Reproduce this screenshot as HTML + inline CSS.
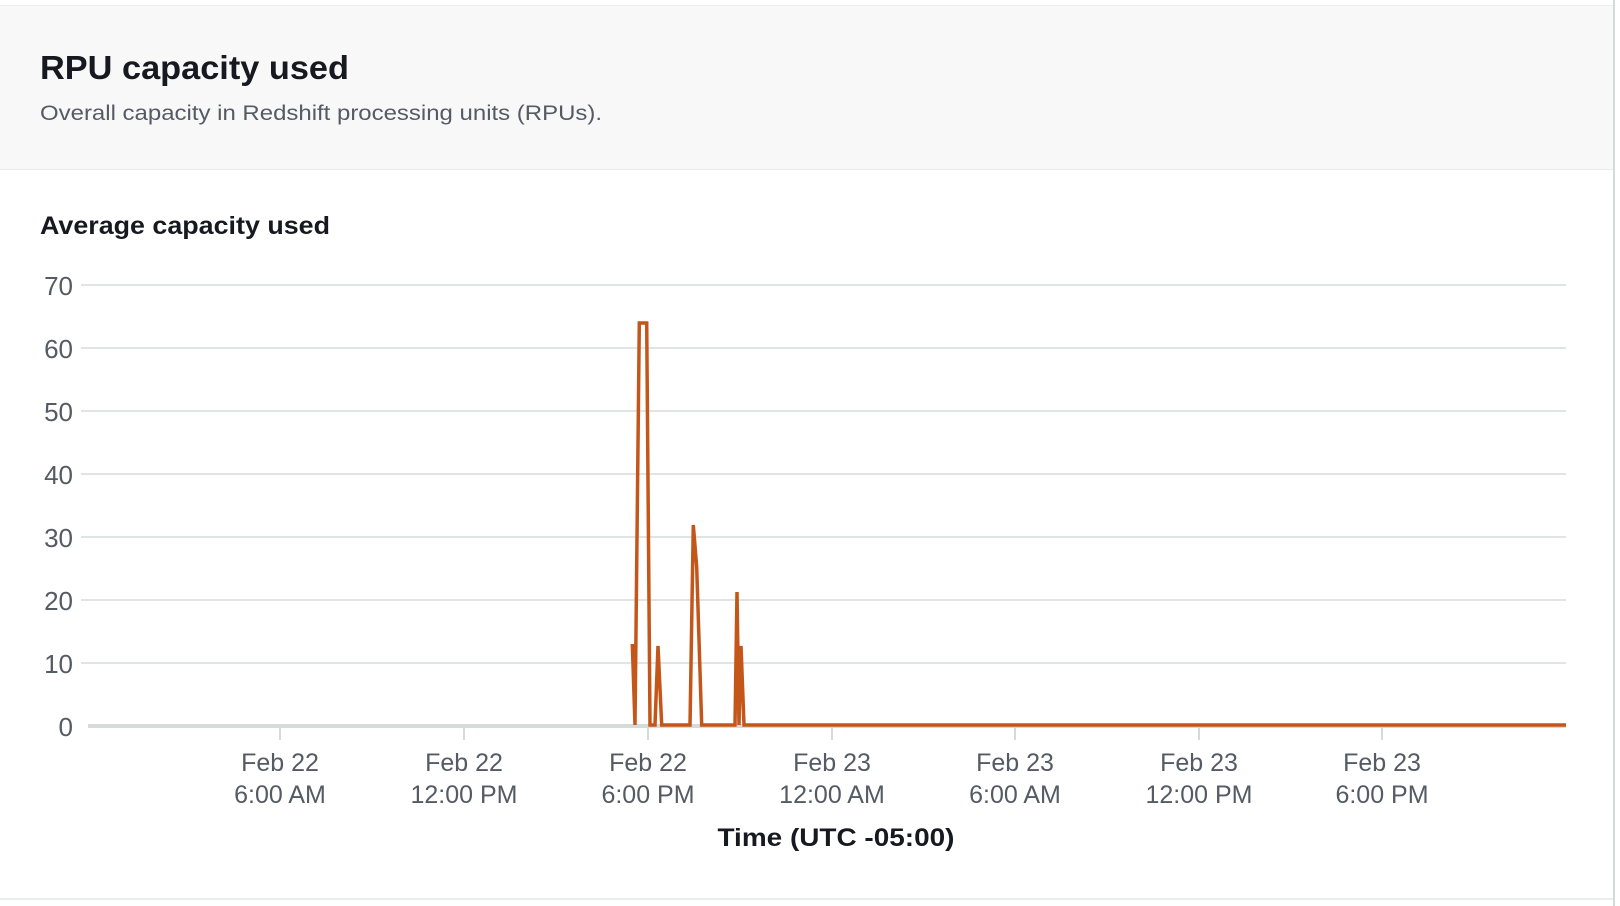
<!DOCTYPE html>
<html><head><meta charset="utf-8"><style>
html,body{margin:0;padding:0;background:#fff;}
body{width:1620px;height:906px;position:relative;overflow:hidden;font-family:"Liberation Sans",sans-serif;color:#16191f;}
.hdr{position:absolute;left:0;top:5px;width:1613px;height:163px;background:#f8f8f8;border-top:1px solid #eaeded;border-bottom:1px solid #eaeded;}
.rb{position:absolute;left:1613px;top:0;width:2px;height:906px;background:#d5dbdb;}
.bb{position:absolute;left:0;top:898px;width:1613px;height:2px;background:#eaeded;}
</style></head><body>
<div class="hdr"></div><div class="rb"></div><div class="bb"></div>
<svg width="1620" height="906" style="position:absolute;left:0;top:0" font-family="Liberation Sans, sans-serif">
<text x="40" y="79" font-size="33" font-weight="bold" fill="#16191f" textLength="309" lengthAdjust="spacingAndGlyphs">RPU capacity used</text>
<text x="40" y="120" font-size="21" fill="#545b64" textLength="562" lengthAdjust="spacingAndGlyphs">Overall capacity in Redshift processing units (RPUs).</text>
<text x="40" y="234" font-size="25" font-weight="bold" fill="#16191f" textLength="290" lengthAdjust="spacingAndGlyphs">Average capacity used</text>
<g stroke="#e1e4e4" stroke-width="2">
<line x1="81" y1="285" x2="1566" y2="285"/>
<line x1="81" y1="348" x2="1566" y2="348"/>
<line x1="81" y1="411" x2="1566" y2="411"/>
<line x1="81" y1="474" x2="1566" y2="474"/>
<line x1="81" y1="537" x2="1566" y2="537"/>
<line x1="81" y1="600" x2="1566" y2="600"/>
<line x1="81" y1="663" x2="1566" y2="663"/>
</g>
<line x1="88" y1="726" x2="1566" y2="726" stroke="#d5dbdb" stroke-width="4"/>
<g stroke="#d5dbdb" stroke-width="2">
<line x1="280" y1="726" x2="280" y2="740"/><line x1="464" y1="726" x2="464" y2="740"/><line x1="648" y1="726" x2="648" y2="740"/><line x1="832" y1="726" x2="832" y2="740"/><line x1="1015" y1="726" x2="1015" y2="740"/><line x1="1199" y1="726" x2="1199" y2="740"/><line x1="1382" y1="726" x2="1382" y2="740"/>
</g>
<g font-size="26" fill="#545b64" text-anchor="end">
<text x="73" y="295">70</text><text x="73" y="358">60</text><text x="73" y="421">50</text><text x="73" y="484">40</text><text x="73" y="547">30</text><text x="73" y="610">20</text><text x="73" y="673">10</text><text x="73" y="736">0</text>
</g>
<g font-size="25" fill="#545b64" text-anchor="middle">
<text x="280" y="771">Feb 22</text><text x="280" y="803">6:00 AM</text>
<text x="464" y="771">Feb 22</text><text x="464" y="803">12:00 PM</text>
<text x="648" y="771">Feb 22</text><text x="648" y="803">6:00 PM</text>
<text x="832" y="771">Feb 23</text><text x="832" y="803">12:00 AM</text>
<text x="1015" y="771">Feb 23</text><text x="1015" y="803">6:00 AM</text>
<text x="1199" y="771">Feb 23</text><text x="1199" y="803">12:00 PM</text>
<text x="1382" y="771">Feb 23</text><text x="1382" y="803">6:00 PM</text>
</g>
<text x="836" y="846" font-size="25" font-weight="bold" text-anchor="middle" fill="#16191f" textLength="237" lengthAdjust="spacingAndGlyphs">Time (UTC -05:00)</text>
<polyline fill="none" stroke="#c4561a" stroke-width="3.5" stroke-linejoin="miter" points="632.3,644 635,725 639.3,323 646.7,323 650,725 655,725 658,646 661.7,725 690,725 693.3,525 696.7,567 701.7,725 735,725 737,592 739,725 741,646 744,725 1566,725"/>
</svg>
</body></html>
